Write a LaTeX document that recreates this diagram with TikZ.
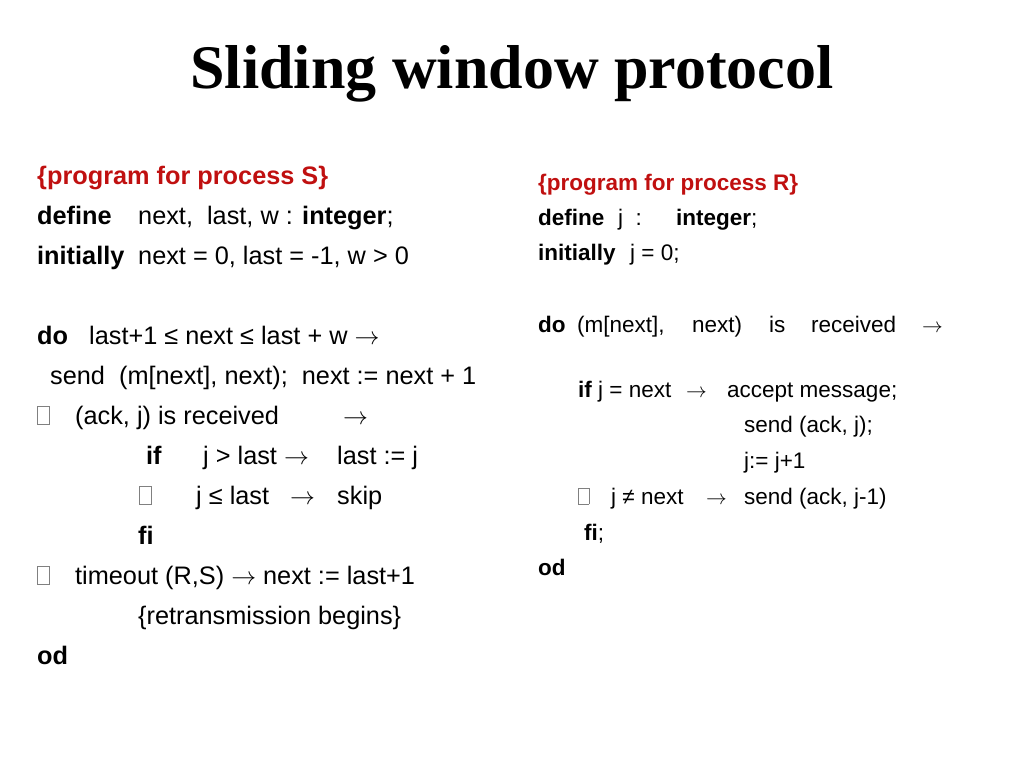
\documentclass[tikz,border=0pt]{standalone}
\usepackage{fontspec}
\setmainfont{Liberation Sans}
\newfontfamily\titlefont{Liberation Serif}
\definecolor{hdr}{RGB}{192,16,16}
\newcommand\gbox{{\color{gray}\setlength\fboxsep{0pt}\setlength\fboxrule{0.5pt}\fbox{\phantom{\rule{0.45em}{0.7em}}}}}
\newcommand\ar{$\rightarrow$}
\begin{document}
\begin{tikzpicture}[x=1pt,y=-1pt,
  L/.style={anchor=base west,inner sep=0pt,font=\fontsize{25.3}{28}\selectfont},
  R/.style={anchor=base west,inner sep=0pt,font=\fontsize{22.5}{25}\selectfont}]
\useasboundingbox (0,0) rectangle (1024,768);
\node[anchor=base,inner sep=0pt,font=\titlefont\bfseries\fontsize{62}{68}\selectfont] (title) at (512,88) {Sliding window protocol};
% left
\node[L,text=hdr,font=\bfseries\fontsize{25.3}{28}\selectfont] (l1) at (37,184) {\{program for process S\}};
\node[L] (l2a) at (37,224) {\textbf{define}};
\node[L] (l2b) at (138,224) {next,\ \ last, w : \textbf{integer};};
\node[L] (l3a) at (37,264) {\textbf{initially}};
\node[L] (l3b) at (138,264) {next = 0, last = -1, w > 0};
\node[L] (l4a) at (37,344) {\textbf{do}};
\node[L] (l4b) at (89,344) {last+1 ≤ next ≤ last + w \ar};
\node[L] (l5) at (50,384) {send\ \ (m[next], next);\ \ next := next + 1};
\node[L] (l6a) at (37,424) {\gbox};
\node[L] (l6b) at (75,424) {(ack, j) is received};
\node[L] (l6c) at (343,424) {\ar};
\node[L] (l7a) at (146,464) {\textbf{if}};
\node[L] (l7b) at (203,464) {j > last \ar};
\node[L] (l7c) at (337,464) {last := j};
\node[L] (l8a) at (139,504) {\gbox};
\node[L] (l8b) at (196,504) {j ≤ last};
\node[L] (l8c) at (290,504) {\ar};
\node[L] (l8d) at (337,504) {skip};
\node[L] (l9) at (138,544) {\textbf{fi}};
\node[L] (l10a) at (37,584) {\gbox};
\node[L] (l10b) at (75,584) {timeout (R,S) \ar{} next := last+1};
\node[L] (l11) at (138,624) {\{retransmission begins\}};
\node[L] (l12) at (37,664) {\textbf{od}};
% right
\node[R,text=hdr,font=\bfseries\fontsize{22.5}{25}\selectfont] (r1) at (538,190) {\{program for process R\}};
\node[R] (r2a) at (538,225) {\textbf{define}};
\node[R] (r2b) at (618,225) {j\ \ :};
\node[R] (r2c) at (676,225) {\textbf{integer};};
\node[R] (r3a) at (538,260) {\textbf{initially}};
\node[R] (r3b) at (630,260) {j = 0;};
\node[R] (r4a) at (538,332) {\textbf{do}};
\node[R] (r4b) at (577,332) {(m[next],};
\node[R] (r4c) at (692,332) {next)};
\node[R] (r4d) at (769,332) {is};
\node[R] (r4e) at (811,332) {received};
\node[R] (r4f) at (922,332) {\ar};
\node[R] (r5a) at (578,397) {\textbf{if}};
\node[R] (r5b) at (598,397) {j = next};
\node[R] (r5c) at (686,397) {\ar};
\node[R] (r5d) at (727,397) {accept message;};
\node[R] (r6) at (744,432) {send (ack, j);};
\node[R] (r7) at (744,468) {j:= j+1};
\node[R] (r8a) at (578,504) {\gbox};
\node[R] (r8b) at (611,504) {j ≠ next};
\node[R] (r8c) at (706,504) {\ar};
\node[R] (r8d) at (744,504) {send (ack, j-1)};
\node[R] (r9) at (584,540) {\textbf{fi};};
\node[R] (r10) at (538,575) {\textbf{od}};
\end{tikzpicture}
\end{document}
